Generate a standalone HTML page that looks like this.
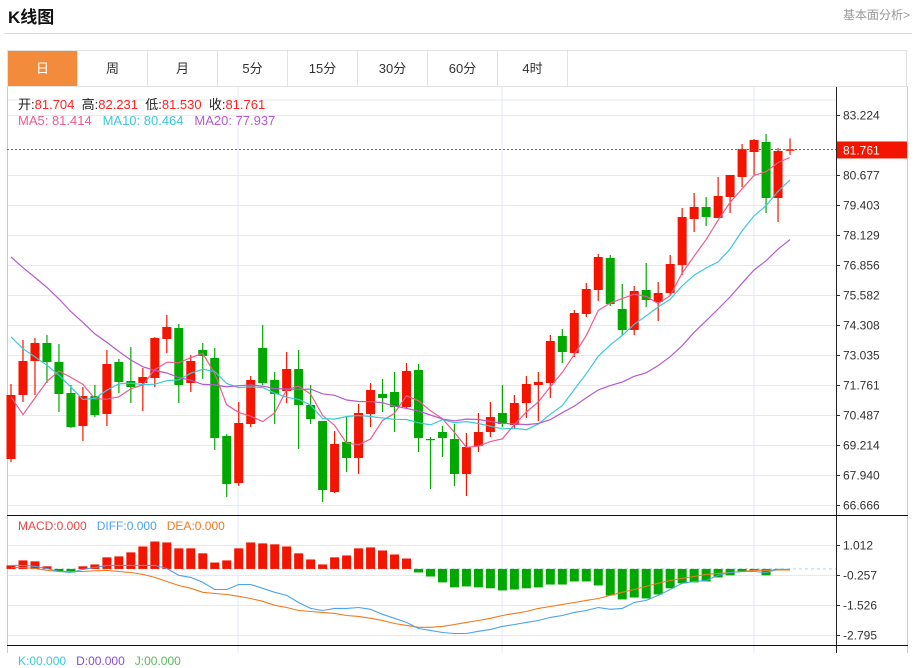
<!DOCTYPE html>
<html><head><meta charset="utf-8">
<style>
body{margin:0;width:924px;height:653px;overflow:hidden;background:#fff;font-family:"Liberation Sans","Noto Sans CJK SC",sans-serif;position:relative}
.title{position:absolute;left:8px;top:3px;font-size:17px;font-weight:bold;color:#111}
.more{position:absolute;right:14px;top:6px;font-size:12px;color:#999}
.hr{position:absolute;left:4px;top:33px;width:908px;height:1px;background:#d8d8d8}
.tabs{position:absolute;left:7px;top:50px;width:900px;height:36px;border:1px solid #e2e2e2;border-bottom:none;box-sizing:border-box}
.tab{position:absolute;top:0;height:35px;width:70px;border-right:1px solid #e2e2e2;text-align:center;line-height:35px;font-size:13px;color:#333;box-sizing:border-box}
.tab.on{background:#f28c3c;color:#fff}
svg{position:absolute;left:0;top:0}
</style></head><body>
<div class="title">K线图</div>
<div class="more">基本面分析&gt;</div>
<div class="hr"></div>
<div class="tabs">
<div class="tab on" style="left:0">日</div>
<div class="tab" style="left:70px">周</div>
<div class="tab" style="left:140px">月</div>
<div class="tab" style="left:210px">5分</div>
<div class="tab" style="left:280px">15分</div>
<div class="tab" style="left:350px">30分</div>
<div class="tab" style="left:420px">60分</div>
<div class="tab" style="left:490px">4时</div>
</div>
<svg id="chart" width="924" height="653"></svg>
<script>
const opens=[68.621,71.338,72.782,73.546,72.739,71.423,70.022,71.295,70.532,72.739,71.933,71.848,72.060,73.716,74.182,71.848,73.249,72.909,69.597,67.602,70.107,73.333,71.975,71.508,72.442,70.914,70.235,67.219,69.343,68.664,70.532,71.380,71.465,70.829,72.400,69.470,69.767,69.470,67.984,69.173,69.767,70.574,70.065,70.998,71.763,71.848,73.843,73.121,74.777,75.796,77.154,74.989,74.098,75.796,75.286,75.668,76.857,78.809,79.319,78.852,79.743,80.592,81.654,82.078,79.701,81.704];
const highs=[71.805,73.673,73.758,73.885,73.503,71.763,71.678,71.763,73.249,72.866,73.376,72.485,73.801,74.734,74.352,73.036,73.546,73.333,69.682,71.041,72.145,74.310,72.315,73.164,73.249,71.763,70.235,69.810,70.447,70.956,71.848,72.018,72.315,72.697,72.654,69.555,70.022,70.107,69.725,70.574,71.041,71.763,71.338,72.145,72.315,73.885,74.140,74.947,76.093,77.324,77.281,76.050,75.965,76.942,76.135,77.281,79.276,79.913,79.743,80.592,80.677,81.993,82.205,82.418,81.823,82.231];
const lows=[68.494,71.041,71.338,71.848,70.616,69.937,69.385,70.404,70.022,71.423,70.998,70.659,71.678,73.121,70.998,71.465,72.018,69.003,67.007,67.474,69.980,71.763,70.107,70.998,69.046,70.107,66.795,67.177,68.069,67.984,69.980,70.616,69.767,70.744,68.918,67.347,68.706,67.474,67.049,68.918,69.555,69.980,69.937,70.362,70.235,71.210,72.697,72.951,74.649,75.329,75.116,73.885,73.885,75.074,74.480,75.583,76.432,78.258,78.512,78.852,79.064,80.168,80.677,79.064,78.682,81.530];
const closes=[71.338,72.782,73.546,72.739,71.380,69.980,71.295,70.489,72.654,71.890,71.678,72.103,73.758,74.225,71.763,72.782,72.994,69.512,67.559,70.150,71.975,71.848,71.380,72.442,70.914,70.319,67.304,69.258,68.664,70.574,71.550,71.210,70.829,72.357,69.512,69.427,69.512,67.984,69.131,69.767,70.404,70.107,70.998,71.805,71.890,73.631,73.164,74.819,75.838,77.196,75.201,74.098,75.753,75.371,75.668,76.899,78.894,79.319,78.894,79.786,80.677,81.781,82.163,79.701,81.696,81.761];
const priorCloses=[82.0,81.8,81.3,81.0,80.8,80.5,80.2,79.9,79.6,78.9,77.8,77.0,76.3,75.6,75.05,76.55,70.0,69.2,69.2];
const macdBars=[0.15,0.36,0.32,0.11,-0.11,-0.15,0.11,0.19,0.49,0.53,0.70,0.95,1.16,1.12,0.87,0.87,0.66,0.27,0.36,0.87,1.12,1.08,1.04,0.95,0.66,0.40,0.19,0.49,0.57,0.87,0.91,0.78,0.61,0.44,-0.15,-0.32,-0.57,-0.78,-0.74,-0.78,-0.82,-0.91,-0.87,-0.82,-0.78,-0.66,-0.66,-0.53,-0.53,-0.70,-1.12,-1.29,-1.21,-1.25,-1.08,-0.82,-0.61,-0.57,-0.53,-0.36,-0.27,-0.11,-0.06,-0.27,-0.02,0];
const diffVals=[0.15,0.15,0.11,0.02,-0.11,-0.15,-0.02,0.06,0.15,0.15,0.15,0.15,0.15,0.02,-0.27,-0.36,-0.57,-0.87,-0.87,-0.66,-0.66,-0.82,-0.99,-1.12,-1.42,-1.67,-1.76,-1.67,-1.67,-1.63,-1.71,-1.92,-2.09,-2.26,-2.52,-2.60,-2.69,-2.73,-2.73,-2.64,-2.56,-2.43,-2.35,-2.26,-2.18,-2.05,-1.97,-1.84,-1.76,-1.63,-1.71,-1.67,-1.42,-1.33,-1.12,-0.87,-0.61,-0.53,-0.49,-0.27,-0.15,-0.11,-0.11,-0.15,-0.02,-0.02];
const deaVals=[0.06,0.06,0.02,-0.06,-0.11,-0.11,-0.11,-0.08,-0.06,-0.11,-0.15,-0.23,-0.36,-0.53,-0.70,-0.82,-0.99,-1.04,-1.08,-1.16,-1.25,-1.37,-1.54,-1.63,-1.76,-1.80,-1.84,-1.88,-1.97,-2.01,-2.09,-2.18,-2.31,-2.39,-2.47,-2.47,-2.43,-2.35,-2.26,-2.18,-2.09,-1.97,-1.88,-1.80,-1.67,-1.59,-1.50,-1.42,-1.33,-1.25,-1.12,-0.99,-0.87,-0.74,-0.61,-0.49,-0.40,-0.32,-0.23,-0.19,-0.15,-0.11,-0.06,-0.06,-0.04,-0.04];
const priceTicks=[83.224,80.677,79.403,78.129,76.856,75.582,74.308,73.035,71.761,70.487,69.214,67.940,66.666];
const macdTicks=[1.012,-0.257,-1.526,-2.795];
const lastPrice=81.761;

const svg=document.getElementById('chart');
const NS='http://www.w3.org/2000/svg';
function mk(tag,attrs,parent){const e=document.createElementNS(NS,tag);for(const k in attrs)e.setAttribute(k,attrs[k]);(parent||svg).appendChild(e);return e;}
const X0=11,DX=11.985,L=7,R=836;
const xi=i=>X0+i*DX;
const yP=p=>115+(83.224-p)*30/1.2735;
const yM=v=>575-(v+0.257)*30/1.269;
const RED='#f41500',GREEN='#00a800',GRID='#e3eaf1';

[238,502,754].forEach(x=>{const g=mk('line',{x1:x,x2:x,y1:86,y2:653,stroke:GRID});

});
mk('line',{x1:L,x2:R,y1:100,y2:100,stroke:GRID});
priceTicks.forEach(t=>{const y=Math.round(yP(t))+0.5;
const g=mk('line',{x1:L,x2:R,y1:y,y2:y,stroke:GRID});


mk('line',{x1:R,x2:R+4,y1:y,y2:y,stroke:'#333'});
const tx=mk('text',{x:843,y:y+4,'font-size':12,fill:'#333'});tx.textContent=t.toFixed(3);

});
macdTicks.forEach(t=>{const y=Math.round(yM(t))+0.5;
const g=mk('line',{x1:L,x2:R,y1:y,y2:y,stroke:GRID});


mk('line',{x1:R,x2:R+4,y1:y,y2:y,stroke:'#333'});
const tx=mk('text',{x:843,y:y+4,'font-size':12,fill:'#333'});tx.textContent=t.toFixed(3);

});

mk('line',{x1:L+0.5,x2:L+0.5,y1:86,y2:653,stroke:'#ccc'});
mk('line',{x1:R+0.5,x2:R+0.5,y1:86,y2:653,stroke:'#222'});
mk('line',{x1:907.5,x2:907.5,y1:86,y2:653,stroke:'#ccc'});
mk('line',{x1:L,x2:908,y1:86.5,y2:86.5,stroke:'#e2e2e2'});
mk('line',{x1:L,x2:908,y1:515.5,y2:515.5,stroke:'#111'});
mk('line',{x1:L,x2:908,y1:645.5,y2:645.5,stroke:'#111'});

closes.forEach((c,i)=>{const o=opens[i],up=c>=o,col=up?RED:GREEN,x=xi(i);
const w=mk('line',{x1:x,x2:x,y1:yP(highs[i]),y2:yP(lows[i]),stroke:col,'stroke-width':1.2});


const t=yP(Math.max(o,c)),b=yP(Math.min(o,c));
const r=mk('rect',{x:x-4.5,y:t,width:9,height:Math.max(1.2,b-t),fill:col});

});

const all=priorCloses.concat(closes),H=priorCloses.length;
function ma(n,col,name){let d='';closes.forEach((c,i)=>{let s=0;for(let k=0;k<n;k++)s+=all[H+i-k];const v=s/n;d+=(i?'L':'M')+xi(i).toFixed(1)+' '+yP(v).toFixed(1);});
const p=mk('path',{d:d,fill:'none',stroke:col,'stroke-width':1.2});

}
ma(5,'#ef5b8f','ma5-line');ma(10,'#3cc8dc','ma10-line');ma(20,'#b45bd0','ma20-line');

const ly=yP(lastPrice);
const dl=mk('line',{x1:L,x2:R,y1:ly,y2:ly,stroke:'#e33','stroke-dasharray':'2,2'});


const lb=mk('rect',{x:837,y:ly-8,width:70,height:17,fill:'#f41500'});


const lt=mk('text',{x:843,y:ly+5,'font-size':12,fill:'#fff'});lt.textContent=lastPrice.toFixed(3);

const z=yM(0);
const zl=mk('line',{x1:L,x2:R,y1:z,y2:z,stroke:'#a8d8ee','stroke-dasharray':'3,3'});


macdBars.forEach((v,i)=>{if(!v)return;const y=yM(v);
const r=mk('rect',{x:xi(i)-4.5,y:Math.min(y,z),width:9,height:Math.abs(y-z),fill:v>0?RED:GREEN});

});
function ln(arr,col,name){const d=arr.map((v,i)=>(i?'L':'M')+xi(i).toFixed(1)+' '+yM(v).toFixed(1)).join('');
const p=mk('path',{d:d,fill:'none',stroke:col,'stroke-width':1.1});

}
ln(deaVals,'#f07a20','dea-line');ln(diffVals,'#4aa3f0','diff-line');
</script>
<div style="position:absolute;left:18px;top:94px;font-size:13px;color:#222;white-space:pre">开:<span style="color:#f22">81.704</span>  高:<span style="color:#f22">82.231</span>  低:<span style="color:#f22">81.530</span>  收:<span style="color:#f22">81.761</span></div>
<div style="position:absolute;left:18px;top:113px;font-size:13px;white-space:pre"><span style="color:#ef5b8f">MA5: 81.414</span>   <span style="color:#3cc8dc">MA10: 80.464</span>   <span style="color:#b45bd0">MA20: 77.937</span></div>
<div style="position:absolute;left:18px;top:519px;font-size:12px;white-space:pre"><span style="color:#e44">MACD:0.000</span>   <span style="color:#4aa3f0">DIFF:0.000</span>   <span style="color:#f07a20">DEA:0.000</span></div>
<div style="position:absolute;left:18px;top:654px;font-size:12px;white-space:pre"><span style="color:#3cc8dc">K:00.000</span>   <span style="color:#8a4fd0">D:00.000</span>   <span style="color:#5cb85c">J:00.000</span></div>
</body></html>
